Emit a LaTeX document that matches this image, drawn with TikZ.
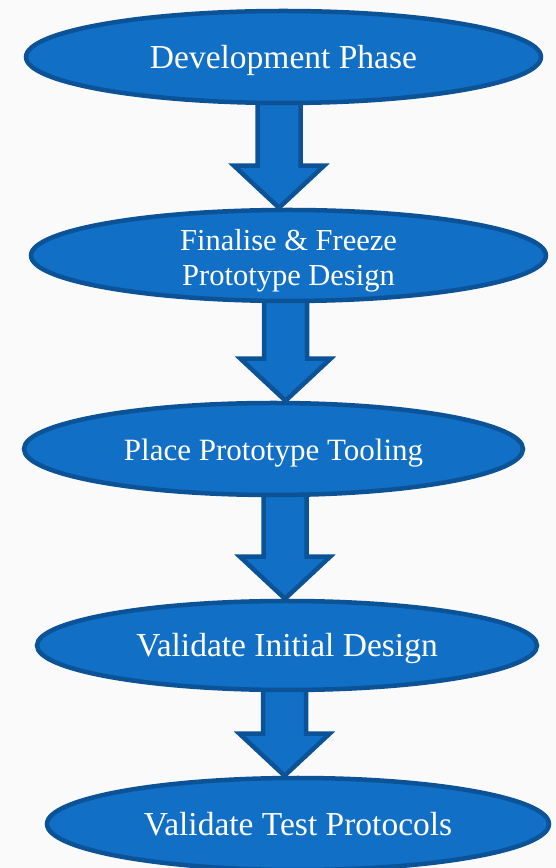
\documentclass[tikz,border=0pt]{standalone}
\usepackage{fontspec}
\setmainfont{Liberation Serif}
\usetikzlibrary{shapes.geometric,calc,backgrounds}
\definecolor{phasefill}{RGB}{17,111,198}
\definecolor{phaseedge}{RGB}{12,82,150}
\definecolor{paper}{RGB}{250,250,251}
% block arrow: #1 = centre x, #2 = upper node, #3 = lower node
\newcommand{\blockdown}[3]{%
  \coordinate (ax) at (#1,0);
  \draw[blockarr] ($(ax |- #2.south)+(-21.5,8)$) -- ($(ax |- #2.south)+(21.5,8)$)
    -- ($(ax |- #3.north)+(21.5,42)$) -- ($(ax |- #3.north)+(45,42)$)
    -- (ax |- #3.north) -- ($(ax |- #3.north)+(-45,42)$)
    -- ($(ax |- #3.north)+(-21.5,42)$) -- cycle;}

\begin{document}
\begin{tikzpicture}[x=1pt, y=1pt,
    every node/.style={text=white},
    phase/.style={ellipse, draw=phaseedge, fill=phasefill, line width=4.5pt,
                  inner sep=0pt, text height=23pt, text depth=0pt},
    big/.style={font=\fontsize{33.5}{36}\selectfont},
    blockarr/.style={draw=phaseedge, fill=phasefill, line width=4.5pt, line join=miter},
]
  \useasboundingbox (0,0) rectangle (556,868);
  \begin{scope}[on background layer]
    \fill[paper] (0,0) rectangle (556,868);
  \end{scope}
  % Phases, top to bottom
  \node[phase, big, minimum width=515, minimum height=92] (dev) at (283.5,811) {Development Phase};
  \node[phase, minimum width=515, minimum height=91, align=center,
        font=\fontsize{30.5}{35}\selectfont, text height=61pt, text depth=0pt]
        (freeze) at (288.5,612.5) {Finalise \& Freeze\\Prototype Design};
  \node[phase, minimum width=499, minimum height=92, font=\fontsize{31}{36}\selectfont]
        (tooling) at (273.5,419) {Place Prototype Tooling};
  \node[phase, big, minimum width=500, minimum height=89] (initial) at (287,222.5) {Validate Initial Design};
  \node[phase, big, minimum width=502, minimum height=92] (protocols) at (298,44) {Validate Test Protocols};
  % Arrows behind the ellipses
  \begin{scope}[on background layer]
    \blockdown{279}{dev}{freeze}
    \blockdown{285.5}{freeze}{tooling}
    \blockdown{285}{tooling}{initial}
    \blockdown{284.5}{initial}{protocols}
  \end{scope}
\end{tikzpicture}
\end{document}
